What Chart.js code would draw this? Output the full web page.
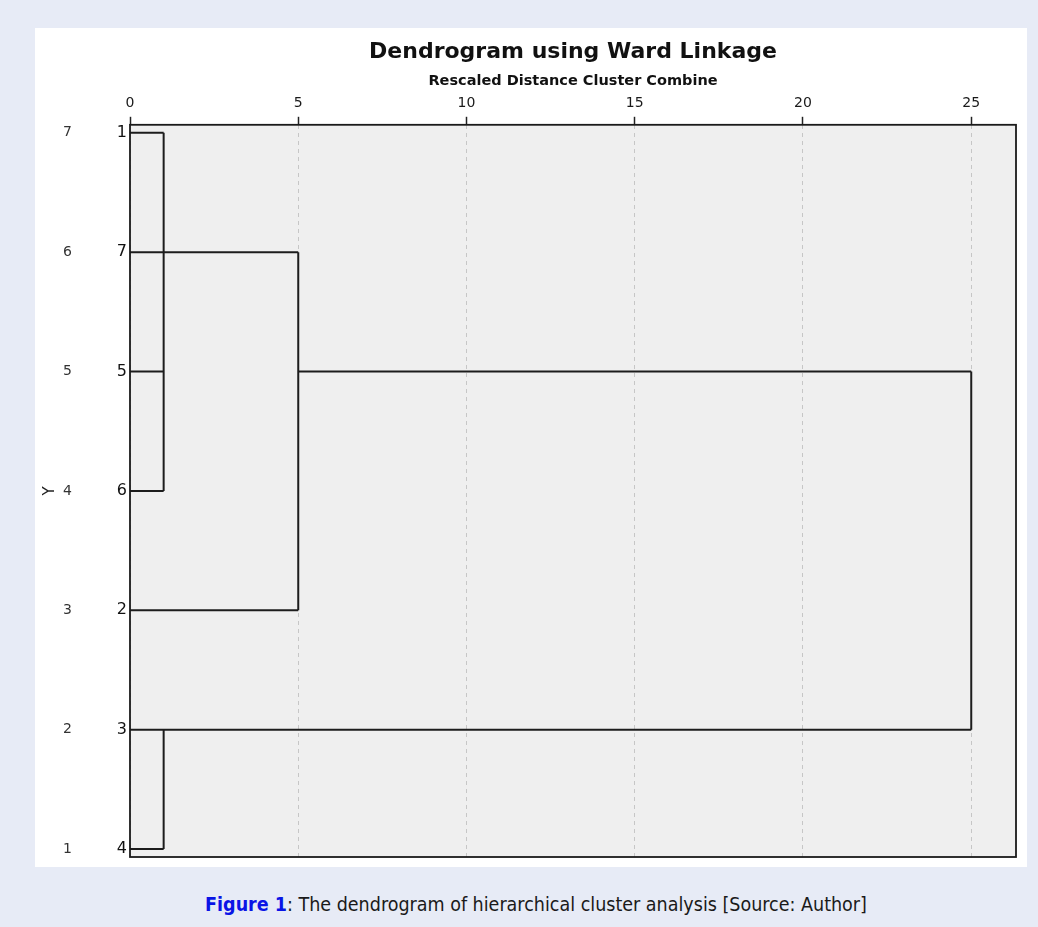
<!DOCTYPE html>
<html>
<head>
<meta charset="utf-8">
<script src="https://cdn.jsdelivr.net/npm/chart.js@4.4.1/dist/chart.umd.min.js"></script>
<style>
  html, body { margin: 0; padding: 0; }
  body { width: 1038px; height: 927px; background: #e7ebf6; position: relative; overflow: hidden; }
  #panel { position: absolute; left: 35px; top: 28px; width: 992px; height: 839px; background: #fff; }
  #caption {
    position: absolute; left: 0; width: 1072px; top: 895px; text-align: center;
    font-family: "Liberation Sans Narrow", "DejaVu Sans Condensed", sans-serif;
    font-size: 19.5px; color: #1a1a1a; line-height: 1;
  }
  #caption b { color: #0a14e6; }
</style>
</head>
<body>
<div id="panel"><canvas id="myChart" width="992" height="839"></canvas></div>
<div id="caption"><b>Figure 1</b>: The dendrogram of hierarchical cluster analysis [Source: Author]</div>
<script>
// leaves from top (y=7) to bottom (y=1)
const leafLabels = ['1', '7', '5', '6', '2', '3', '4']
const leafY = [7, 6, 5, 4, 3, 2, 1]
// rescaled distance where each leaf's horizontal line stops
const leafReach = [1, 5, 1, 1, 5, 25, 1]

// vertical joins: distance, from y, to y
const joinDist = [1, 5, 25, 1]
const joinTop = [7, 6, 5, 2]
const joinBottom = [4, 3, 2, 1]

// horizontal links between clusters
const linkY = [5]
const linkFrom = [5]
const linkTo = [25]

const xTicks = [0, 5, 10, 15, 20, 25]
const yTicks = [1, 2, 3, 4, 5, 6, 7]

const lineColor = '#1c1c1c'

let segments = []
leafY.forEach((y, i) => {
    segments.push([{ x: 0, y: y }, { x: leafReach[i], y: y }])
})
joinDist.forEach((d, i) => {
    segments.push([{ x: d, y: joinTop[i] }, { x: d, y: joinBottom[i] }])
})
linkY.forEach((y, i) => {
    segments.push([{ x: linkFrom[i], y: y }, { x: linkTo[i], y: y }])
})

const datasets = segments.map(seg => ({
    data: seg,
    borderColor: lineColor,
    borderWidth: 2,
    pointRadius: 0,
    fill: false,
    tension: 0,
    xAxisID: 'x',
    yAxisID: 'y',
}))

//plot background + frame
const framePlugin = {
    id: 'frame',
    beforeDraw(chart) {
        const { ctx, chartArea: a } = chart
        ctx.save()
        ctx.fillStyle = '#efefef'
        ctx.fillRect(a.left, a.top, a.right - a.left, a.bottom - a.top)
        ctx.restore()
    },
    afterDraw(chart) {
        const { ctx, chartArea: a } = chart
        ctx.save()
        ctx.strokeStyle = '#1a1a1a'
        ctx.lineWidth = 1.8
        ctx.strokeRect(a.left, a.top, a.right - a.left, a.bottom - a.top)
        ctx.restore()
    }
}

// no extra room for first/last label on the vertical axes
const fitY = w => s => {
    s.width = w
    s.paddingTop = 0
    s.paddingBottom = 0
}

const ctx = document.getElementById('myChart').getContext('2d')

const config = {
    type: 'line',
    data: { datasets },
    plugins: [framePlugin],
    options: {
        responsive: false,
        animation: false,
        layout: { padding: { left: 0, right: 11, top: 0, bottom: 10 } },
        plugins: {
            legend: { display: false },
            tooltip: { enabled: false },
            title: {
                display: true,
                fullSize: false,
                text: 'Dendrogram using Ward Linkage',
                color: '#111',
                font: { family: 'DejaVu Sans', size: 22, weight: 'bold' },
                padding: { top: 11, bottom: 6 },
            },
            subtitle: {
                display: true,
                fullSize: false,
                text: 'Rescaled Distance Cluster Combine',
                color: '#111',
                font: { family: 'DejaVu Sans', size: 14.5, weight: 'bold' },
                padding: { top: 1, bottom: 0 },
            },
        },
        scales: {
            x: {
                type: 'linear',
                position: 'top',
                min: 0,
                max: 26.33,
                afterBuildTicks: s => { s.ticks = xTicks.map(v => ({ value: v })) },
                afterFit: s => { s.height = 35 },
                grid: {
                    color: '#c6c6c6',
                    lineWidth: 1,
                    tickColor: '#222',
                    tickLength: 8,
                    tickWidth: 1.5,
                },
                border: { display: false, dash: [4, 4] },
                ticks: {
                    color: '#1a1a1a',
                    padding: 5,
                    maxRotation: 0,
                    font: { family: 'DejaVu Sans', size: 14 },
                },
            },
            y: {
                type: 'linear',
                position: 'left',
                weight: 2,
                min: 0.933,
                max: 7.067,
                afterBuildTicks: s => { s.ticks = yTicks.map(v => ({ value: v })) },
                afterFit: fitY(50),
                grid: { display: false, drawTicks: false },
                border: { display: false },
                title: {
                    display: true,
                    text: 'Y',
                    color: '#222',
                    font: { family: 'DejaVu Sans', size: 15 },
                    padding: { top: 6, bottom: 0 },
                },
                ticks: {
                    color: '#333',
                    padding: 13,
                    font: { family: 'DejaVu Sans', size: 14 },
                },
            },
            leaf: {
                type: 'linear',
                position: 'left',
                weight: 1,
                min: 0.933,
                max: 7.067,
                afterBuildTicks: s => { s.ticks = yTicks.map(v => ({ value: v })) },
                afterFit: fitY(45),
                grid: { display: false, drawTicks: false },
                border: { display: false },
                ticks: {
                    color: '#111',
                    padding: 3,
                    font: { family: 'DejaVu Sans', size: 16 },
                    callback: v => leafLabels[7 - v],
                },
            },
        },
    },
}

const myChart = new Chart(ctx, config)
</script>
</body>
</html>
